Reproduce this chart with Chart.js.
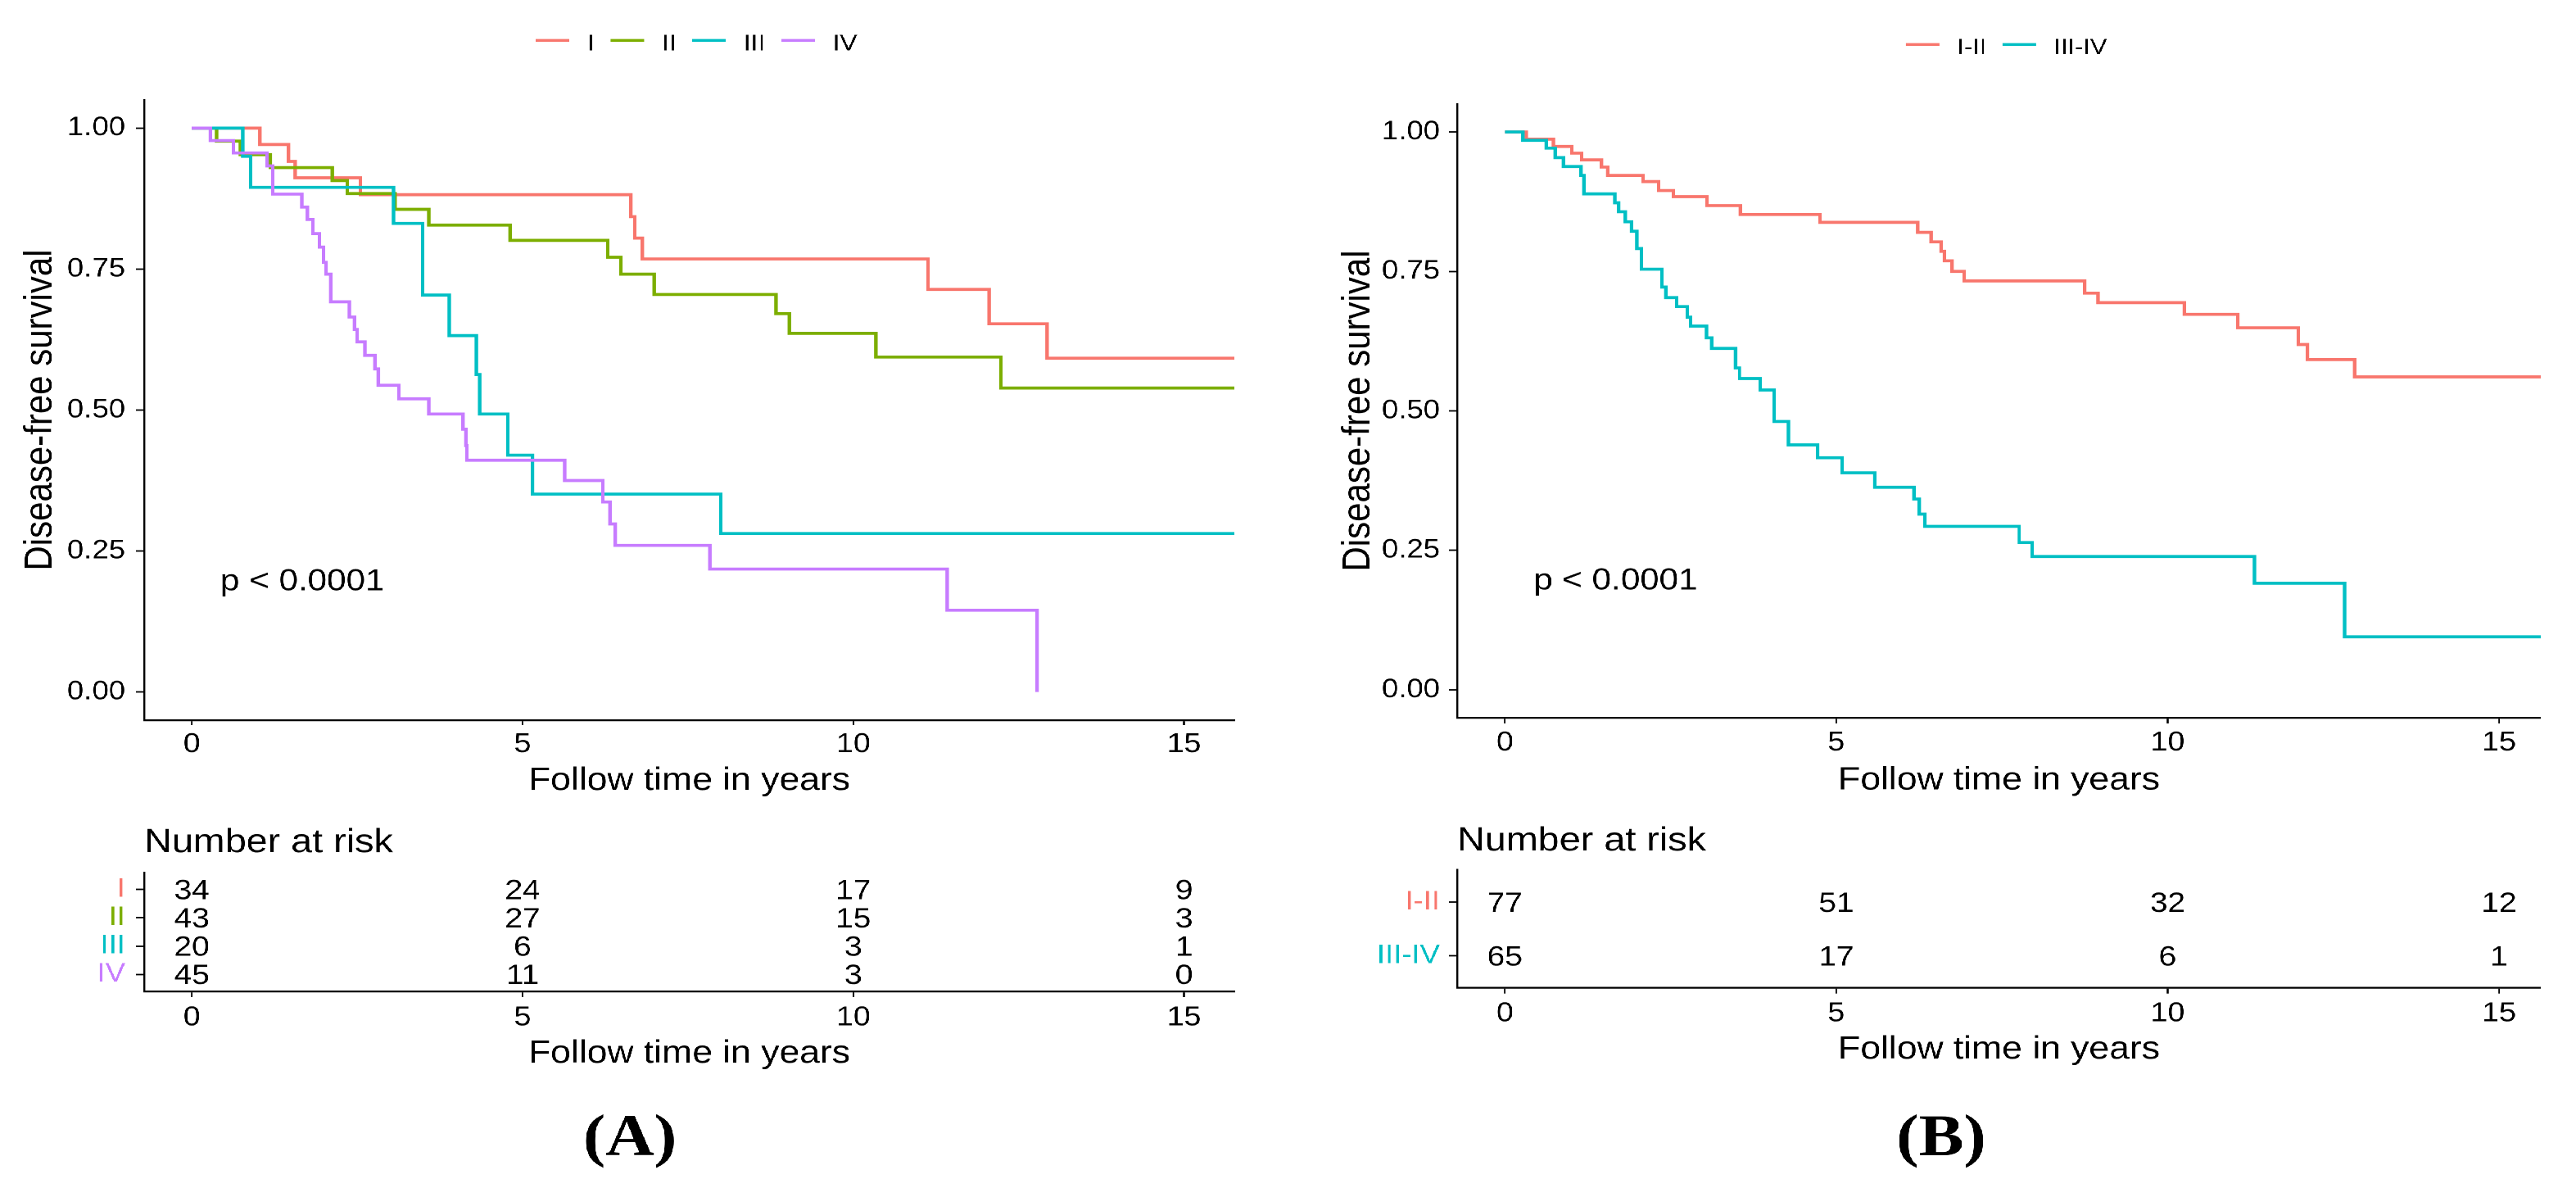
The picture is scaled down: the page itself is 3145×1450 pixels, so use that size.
<!DOCTYPE html>
<html>
<head>
<meta charset="utf-8">
<title>Disease-free survival by stage</title>
<script src="https://cdn.jsdelivr.net/npm/chart.js@4.4.1/dist/chart.umd.min.js"></script>
<style>
    html, body { margin: 0; padding: 0; background: #fff; }
    #page { position: relative; width: 3145px; height: 1450px; overflow: hidden; background: #fff; }
    /* the original figure is stretched a little horizontally */
    .panel { position: absolute; top: 0; height: 1450px; transform: scaleX(1.14); transform-origin: 0 0; }
    .panel canvas { position: absolute; left: 0; }
</style>
</head>
<body>
<div id="page">
    <div class="panel" style="left:0px;width:1368px">
        <canvas id="mainA" width="1368" height="979" style="top:0px"></canvas>
        <canvas id="riskA" width="1368" height="450" style="top:1000px"></canvas>
    </div>
    <div class="panel" style="left:1580px;width:1372px">
        <canvas id="mainB" width="1372" height="976" style="top:0px"></canvas>
        <canvas id="riskB" width="1372" height="450" style="top:1000px"></canvas>
    </div>
</div>
<script>
// Axis ticks
const timeTicks = [0, 5, 10, 15];
const survTicks = [0, 0.25, 0.5, 0.75, 1];
const pValueText = 'p < 0.0001';

// Panel A - stages I to IV (time in years, survival after each step)
const stageLabels = ['I', 'II', 'III', 'IV'];
const stageColors = ['#F8766D', '#7CAE00', '#00BFC4', '#C77CFF'];

const stageI_time = [0, 1.03, 1.46, 1.56, 2.55, 6.64, 6.70, 6.81, 11.13, 12.05, 12.93, 16];
const stageI_surv = [1, 0.971, 0.941, 0.912, 0.882, 0.843, 0.805, 0.768, 0.714, 0.653, 0.592, 0.592];

const stageII_time = [0, 0.375, 0.735, 1.19, 2.12, 2.35, 3.07, 3.58, 4.81, 6.29, 6.49, 6.99, 8.83, 9.03, 10.34, 12.23, 16];
const stageII_surv = [1, 0.977, 0.953, 0.930, 0.907, 0.884, 0.856, 0.828, 0.801, 0.771, 0.741, 0.705, 0.671, 0.636, 0.594, 0.539, 0.539];

const stageIII_time = [0, 0.77, 0.89, 3.05, 3.49, 3.89, 4.30, 4.35, 4.78, 5.15, 8.00, 16];
const stageIII_surv = [1, 0.95, 0.895, 0.831, 0.704, 0.632, 0.563, 0.493, 0.420, 0.351, 0.281, 0.281];

const stageIV_time = [0, 0.28, 0.63, 1.14, 1.22, 1.66, 1.75, 1.83, 1.93, 1.99, 2.03, 2.10, 2.38, 2.46, 2.50,
    2.62, 2.77, 2.82, 3.13, 3.58, 4.10, 4.14, 4.16, 5.64, 6.21, 6.32, 6.40, 7.83, 11.42, 12.78];
const stageIV_surv = [1, 0.978, 0.956, 0.933, 0.883, 0.860, 0.838, 0.813, 0.789, 0.762, 0.741, 0.692, 0.665, 0.643, 0.621,
    0.597, 0.573, 0.544, 0.520, 0.493, 0.466, 0.437, 0.411, 0.375, 0.337, 0.298, 0.260, 0.218, 0.145, 0.0];

// Number at risk, panel A
const riskStageI = [34, 24, 17, 9];
const riskStageII = [43, 27, 15, 3];
const riskStageIII = [20, 6, 3, 1];
const riskStageIV = [45, 11, 3, 0];

// Panel B - grouped stages
const groupLabels = ['I-II', 'III-IV'];
const groupColors = ['#F8766D', '#00BFC4'];

const groupI_II_time = [0, 0.32, 0.73, 1.01, 1.16, 1.46, 1.55, 2.08, 2.32, 2.54, 3.05, 3.55, 4.75, 6.23, 6.43, 6.58,
    6.63, 6.75, 6.93, 8.75, 8.95, 10.25, 11.06, 11.97, 12.11, 12.82, 16];
const groupI_II_surv = [1, 0.987, 0.974, 0.962, 0.950, 0.937, 0.922, 0.911, 0.895, 0.884, 0.868, 0.852, 0.838, 0.820, 0.803, 0.786,
    0.769, 0.750, 0.733, 0.711, 0.694, 0.673, 0.649, 0.619, 0.592, 0.561, 0.561];

const groupIII_IV_time = [0, 0.27, 0.62, 0.76, 0.88, 1.15, 1.19, 1.66, 1.72, 1.82, 1.91, 1.99, 2.06, 2.37, 2.43, 2.59,
    2.75, 2.80, 3.04, 3.12, 3.48, 3.54, 3.85, 4.06, 4.28, 4.72, 5.09, 5.58, 6.17, 6.25, 6.34, 7.76, 7.96, 11.31, 12.67, 16];
const groupIII_IV_surv = [1, 0.985, 0.971, 0.954, 0.938, 0.922, 0.889, 0.873, 0.857, 0.839, 0.822, 0.791, 0.754, 0.722, 0.703, 0.687,
    0.668, 0.652, 0.631, 0.612, 0.577, 0.558, 0.5375, 0.481, 0.439, 0.416, 0.389, 0.363, 0.342, 0.315, 0.293, 0.264, 0.239, 0.191, 0.095, 0.095];

// Number at risk, panel B
const riskGroupI_II = [77, 51, 32, 12];
const riskGroupIII_IV = [65, 17, 6, 1];

const FONT = "'Liberation Sans', Arial, Helvetica, sans-serif";
Chart.defaults.font.family = FONT;
Chart.defaults.color = '#000';

// Layout of each panel (unstretched pixels)
const layoutA = {
    xMin: -0.72, xMax: 15.76, yWidth: 154.4, yTickPad: 11.4, yTitlePad: 18.1, padRight: 46.1, mainTop: 122,
    xTickLen: 6, xTickPad: 4.2, xTitlePad: 2.5,
    riskTop: 65, riskBottom: 140, riskXTickPad: 5.7, riskXTitlePad: 0.4,
    legend: { cx: 746, lineY: 49.3, textY: 61.7, size: 28 },
    narBaseline: 40, label: '(A)', labelX: 674.6
};
const layoutB = {
    xMin: -0.72, xMax: 15.63, yWidth: 174.6, yTickPad: 9.7, yTitlePad: 43.6, padRight: 36.9, mainTop: 127,
    xTickLen: 7, xTickPad: 4.2, xTitlePad: 0,
    riskTop: 61.7, riskBottom: 144.3, riskXTickPad: 5, riskXTitlePad: 1.1,
    legend: { cx: 762.7, lineY: 54.3, textY: 66, size: 27 },
    narBaseline: 38, label: '(B)', labelX: 693
};

function steps(times, surv) {
    return times.map((t, i) => ({ x: t, y: surv[i] }));
}

// Legend across the top: coloured line + label
const kmLegend = {
    id: 'kmLegend',
    afterDraw(chart, args, opts) {
        const ctx = chart.ctx;
        const items = chart.data.datasets;
        ctx.save();
        ctx.font = opts.size + 'px ' + FONT;
        const widths = items.map(d => ctx.measureText(d.label).width);
        let total = 0;
        items.forEach((d, i) => { total += opts.lineLen + opts.gap + widths[i]; });
        total += opts.itemGap * (items.length - 1);
        let x = opts.cx - total / 2;
        items.forEach((d, i) => {
            ctx.strokeStyle = d.borderColor;
            ctx.lineWidth = 3.4;
            ctx.beginPath();
            ctx.moveTo(x, opts.lineY);
            ctx.lineTo(x + opts.lineLen, opts.lineY);
            ctx.stroke();
            x += opts.lineLen + opts.gap;
            ctx.fillStyle = '#000';
            ctx.textAlign = 'left';
            ctx.textBaseline = 'alphabetic';
            ctx.fillText(d.label, x, opts.textY);
            x += widths[i] + opts.itemGap;
        });
        ctx.restore();
    }
};

// p-value annotation placed in data coordinates
const pvalNote = {
    id: 'pvalNote',
    afterDatasetsDraw(chart, args, opts) {
        const { ctx, scales } = chart;
        ctx.save();
        ctx.font = '37px ' + FONT;
        ctx.fillStyle = '#000';
        ctx.textAlign = 'left';
        ctx.textBaseline = 'middle';
        ctx.fillText(opts.text, scales.x.getPixelForValue(opts.x), scales.y.getPixelForValue(opts.y));
        ctx.restore();
    }
};

// Risk table counts drawn at the (invisible) points, plus captions
const riskText = {
    id: 'riskText',
    afterDatasetsDraw(chart, args, opts) {
        const ctx = chart.ctx;
        ctx.save();
        ctx.font = '34px ' + FONT;
        ctx.fillStyle = '#000';
        ctx.textAlign = 'center';
        ctx.textBaseline = 'middle';
        chart.data.datasets.forEach((ds, di) => {
            chart.getDatasetMeta(di).data.forEach((pt, j) => {
                ctx.fillText(String(ds.counts[j]), pt.x, pt.y + 2.5);
            });
        });
        ctx.textAlign = 'left';
        ctx.textBaseline = 'alphabetic';
        ctx.font = '41px ' + FONT;
        ctx.fillText('Number at risk', chart.chartArea.left, opts.narBaseline);
        ctx.textAlign = 'center';
        ctx.font = 'bold 72px "Liberation Serif", "Times New Roman", serif';
        ctx.fillText(opts.label, opts.labelX, 410);
        ctx.restore();
    }
};

function timeAxis(l, tickLen, tickPad, titlePad) {
    return {
        type: 'linear',
        min: l.xMin,
        max: l.xMax,
        afterBuildTicks: s => { s.ticks = timeTicks.map(v => ({ value: v })); },
        afterFit: s => { s.height = 100; },
        ticks: {
            font: { size: 33, lineHeight: 1.2 },
            color: '#000',
            padding: tickPad,
            maxRotation: 0,
            autoSkip: false,
            callback: v => String(v)
        },
        grid: { drawOnChartArea: false, drawTicks: true, tickLength: tickLen, tickColor: '#000', tickWidth: 1.8 },
        border: { display: true, color: '#000', width: 2.2 },
        title: {
            display: true,
            text: 'Follow time in years',
            color: '#000',
            font: { size: 39, lineHeight: 1.2 },
            padding: { top: 0, bottom: titlePad }
        }
    };
}

function survivalChart(id, l, labels, colors, times, survs) {
    const datasets = labels.map((lab, i) => ({
        label: lab,
        data: steps(times[i], survs[i]),
        borderColor: colors[i],
        backgroundColor: colors[i],
        borderWidth: 3.7,
        pointRadius: 0,
        stepped: 'before',
        fill: false,
        order: labels.length - 1 - i
    }));
    return new Chart(document.getElementById(id), {
        type: 'line',
        data: { datasets: datasets },
        options: {
            responsive: false,
            animation: false,
            devicePixelRatio: 2,
            events: [],
            layout: { padding: { left: 0, top: l.mainTop, right: l.padRight, bottom: 0 } },
            scales: {
                x: timeAxis(l, l.xTickLen, l.xTickPad, l.xTitlePad),
                y: {
                    type: 'linear',
                    min: -0.05,
                    max: 1.05,
                    afterBuildTicks: s => { s.ticks = survTicks.map(v => ({ value: v })); },
                    afterFit: s => { s.width = l.yWidth; },
                    ticks: {
                        font: { size: 32, lineHeight: 1.2 },
                        color: '#000',
                        padding: l.yTickPad,
                        callback: v => Number(v).toFixed(2)
                    },
                    grid: { drawOnChartArea: false, drawTicks: true, tickLength: 8.8, tickColor: '#000', tickWidth: 1.8 },
                    border: { display: true, color: '#000', width: 2.2 },
                    title: {
                        display: true,
                        text: 'Disease-free survival',
                        color: '#000',
                        font: { size: 42, lineHeight: 1.2 },
                        padding: { top: l.yTitlePad, bottom: 0 }
                    }
                }
            },
            plugins: {
                legend: { display: false },
                tooltip: { enabled: false },
                kmLegend: { cx: l.legend.cx, lineY: l.legend.lineY, textY: l.legend.textY, size: l.legend.size, lineLen: 36, gap: 19, itemGap: 17 },
                pvalNote: { text: pValueText, x: 0.43, y: 0.195 }
            }
        },
        plugins: [kmLegend, pvalNote]
    });
}

function riskChart(id, l, labels, colors, counts) {
    const datasets = labels.map((lab, i) => ({
        label: lab,
        data: timeTicks.map(t => ({ x: t, y: i + 1 })),
        counts: counts[i],
        pointRadius: 0,
        showLine: false
    }));
    return new Chart(document.getElementById(id), {
        type: 'scatter',
        data: { datasets: datasets },
        options: {
            responsive: false,
            animation: false,
            devicePixelRatio: 2,
            events: [],
            layout: { padding: { left: 0, top: l.riskTop, right: l.padRight, bottom: l.riskBottom } },
            scales: {
                x: timeAxis(l, 7, l.riskXTickPad, l.riskXTitlePad),
                y: {
                    type: 'linear',
                    min: 0.4,
                    max: labels.length + 0.6,
                    reverse: true,
                    afterBuildTicks: s => { s.ticks = labels.map((_, i) => ({ value: i + 1 })); },
                    afterFit: s => { s.width = l.yWidth; },
                    ticks: {
                        font: { size: 32, lineHeight: 1.2 },
                        padding: l.yTickPad,
                        color: c => colors[c.index],
                        callback: (v, i) => labels[i]
                    },
                    grid: { drawOnChartArea: false, drawTicks: true, tickLength: 8.8, tickColor: '#000', tickWidth: 1.8 },
                    border: { display: true, color: '#000', width: 2.2 }
                }
            },
            plugins: {
                legend: { display: false },
                tooltip: { enabled: false },
                riskText: { narBaseline: l.narBaseline, label: l.label, labelX: l.labelX }
            }
        },
        plugins: [riskText]
    });
}

survivalChart('mainA', layoutA, stageLabels, stageColors,
    [stageI_time, stageII_time, stageIII_time, stageIV_time],
    [stageI_surv, stageII_surv, stageIII_surv, stageIV_surv]);
riskChart('riskA', layoutA, stageLabels, stageColors,
    [riskStageI, riskStageII, riskStageIII, riskStageIV]);

survivalChart('mainB', layoutB, groupLabels, groupColors,
    [groupI_II_time, groupIII_IV_time],
    [groupI_II_surv, groupIII_IV_surv]);
riskChart('riskB', layoutB, groupLabels, groupColors,
    [riskGroupI_II, riskGroupIII_IV]);
</script>
</body>
</html>
